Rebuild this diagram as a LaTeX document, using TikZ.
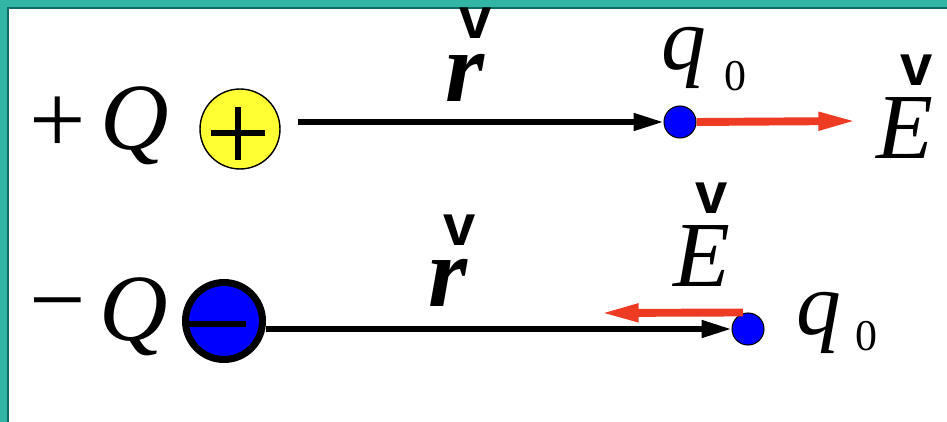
\documentclass[tikz,border=0pt]{standalone}
\usepackage{fontspec}
\setmainfont{Liberation Serif}
\newfontfamily\arrowfont{Liberation Sans}
\usetikzlibrary{arrows.meta, calc}
\definecolor{frameteal}{HTML}{33B5A5}
\definecolor{framedark}{HTML}{0C6B63}
\definecolor{chargeyellow}{HTML}{FFFF33}
\definecolor{fieldred}{HTML}{EE3B24}
\definecolor{probeblue}{HTML}{0000FF}

\begin{document}
\begin{tikzpicture}[
  x=0.02cm, y=-0.02cm,
  sign/.style={font=\fontsize{57}{57}\selectfont, inner sep=0pt},
  letter/.style={font=\fontsize{#1}{#1}\selectfont\itshape, inner sep=0pt},
  boldletter/.style={font=\fontsize{#1}{#1}\selectfont\bfseries\itshape, inner sep=0pt},
  digit/.style={font=\fontsize{#1}{#1}\selectfont, inner sep=0pt},
  vmark/.style={font=\fontsize{33}{33}\selectfont\arrowfont\bfseries, inner sep=0pt},
  probe/.style={circle, draw=black, line width=0.6pt, fill=probeblue,
    minimum size=0.64cm, inner sep=0pt},
  rvec/.style={line width=3.1pt, -{Triangle[length=17pt,width=9.5pt]}},
  evec/.style={fieldred, line width=4.5pt, -{Triangle[length=22pt,width=9.5pt]}}
]
  % frame
  \fill[frameteal] (0,0) rectangle (947,422);
  \fill[framedark] (7,7) rectangle (947,422);
  \fill[white] (9,9) rectangle (947,422);

  % positive source charge
  \node[sign] (sgnA) at (58,125) {+};
  \node[letter=54] (QA) at (135,126) {Q};
  \node[circle, draw=black, line width=0.8pt, fill=chargeyellow,
    minimum size=1.6cm, inner sep=0pt] (chA) at (240,129) {};
  \draw[line width=3pt] (211,133) -- (265,133) (238,107) -- (238,160);

  \node[probe] (qA) at (680,122) {};
  \draw[rvec, shorten <=17*0.02cm] (chA.east |- qA) -- (qA.west);
  \coordinate (EtipA) at (857,121);
  \draw[evec] (qA.east) -- (EtipA);

  \node[boldletter=57] (rA) at (465,78) {r};
  \node[vmark] (vrA) at (476,23) {v};
  \node[letter=53] (EA) at (905,128) {E};
  \node[vmark] (vEA) at (917,70) {v};
  \node[letter=51] (qlabA) at (684,58) {q};
  \node[digit=25] (qsubA) at (735,76) {0};

  % negative source charge
  \node[sign] (sgnB) at (58,316) {−};
  \node[letter=54] (QB) at (134,317) {Q};
  \node[circle, draw=black, line width=4pt, fill=probeblue,
    minimum size=1.54cm, inner sep=0pt] (chB) at (224,321) {};
  \draw[line width=3.4pt] (189,324) -- (246,324);

  \node[probe] (qB) at (748,329) {};
  \draw[rvec] (chB.east |- qB) -- (qB.west);
  \coordinate (EtipB) at (600,313);
  \draw[evec] ($(qB.north)+(-5,0)$) -- (EtipB);

  \node[boldletter=57] (rB) at (448,283) {r};
  \node[vmark] (vrB) at (460,230) {v};
  \node[letter=53] (EB) at (702,256) {E};
  \node[vmark] (vEB) at (712,198) {v};
  \node[letter=51] (qlabB) at (819,323) {q};
  \node[digit=25] (qsubB) at (866,336) {0};
\end{tikzpicture}
\end{document}
